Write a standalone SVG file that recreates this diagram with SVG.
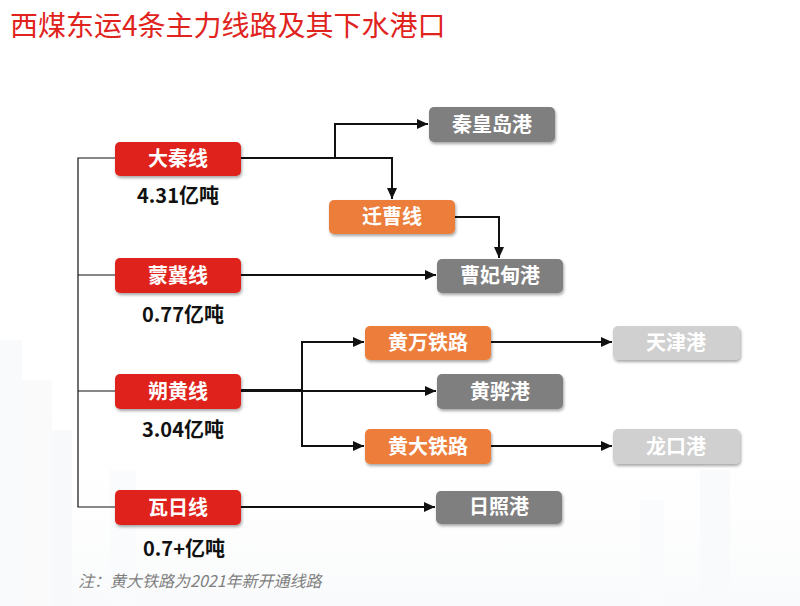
<svg xmlns="http://www.w3.org/2000/svg" width="800" height="606" viewBox="0 0 800 606">
<defs>
<style>
.box{stroke:none;filter:url(#sh)}
.red{fill:#e0231c}
.org{fill:#ec7d3b}
.dg{fill:#7f7f7f}
.lg{fill:#d0d0d0}
.bt{font-family:"Noto Sans CJK SC","Noto Sans",sans-serif;font-weight:700;font-size:20px;fill:#ffffff;text-anchor:middle}
.num{font-family:"Noto Sans CJK SC","Noto Sans",sans-serif;font-weight:700;font-size:20px;fill:#111111;text-anchor:middle}
.ln{fill:none;stroke:#111111;stroke-width:2}
.thin{fill:none;stroke:#111111;stroke-width:1.2}
</style>
<filter id="sh" x="-10%" y="-20%" width="125%" height="160%">
<feDropShadow dx="1" dy="2" stdDeviation="1.6" flood-color="#000000" flood-opacity="0.35"/>
</filter>
<marker id="ar" markerUnits="userSpaceOnUse" markerWidth="12" markerHeight="12" refX="11" refY="5" orient="auto">
<path d="M0,0 L11,5 L0,10 z" fill="#111111"/>
</marker>
<linearGradient id="bg" x1="0" y1="0" x2="0" y2="1">
<stop offset="0" stop-color="#ffffff" stop-opacity="0"/>
<stop offset="1" stop-color="#e9edf1" stop-opacity="0.8"/>
</linearGradient>
</defs>
<rect width="800" height="606" fill="#ffffff"/>
<g id="background" opacity="0.35">
<rect x="0" y="420" width="800" height="186" fill="url(#bg)"/>
<rect x="0" y="340" width="22" height="266" fill="#eef1f4"/>
<rect x="22" y="380" width="30" height="226" fill="#f1f3f6"/>
<rect x="52" y="430" width="20" height="176" fill="#eceff3"/>
<rect x="110" y="470" width="26" height="136" fill="#f2f4f7"/>
<rect x="640" y="500" width="24" height="106" fill="#f2f4f7"/>
<rect x="700" y="470" width="30" height="136" fill="#f0f2f5"/>
</g>
<text id="title" x="10" y="36" font-family="'Noto Sans CJK SC','Noto Sans',sans-serif" font-size="28" fill="#e0231c">西煤东运4条主力线路及其下水港口</text>
<g id="connectors">
<path class="thin" d="M115,158 H78 V507 H115 M78,275 H115 M78,391 H115"/>
<path class="ln" d="M241,158 H392 V199" marker-end="url(#ar)"/>
<path class="ln" d="M335,158 V124 H428" marker-end="url(#ar)"/>
<path class="ln" d="M455,217 H499 V258" marker-end="url(#ar)"/>
<path class="ln" d="M241,275 H436" marker-end="url(#ar)"/>
<path class="ln" d="M241,391 H436" marker-end="url(#ar)"/>
<path class="ln" d="M241,390 H302"/>
<path class="ln" d="M364,342 H302 V446 H364" />
<path class="ln" d="M302,342 H364" marker-end="url(#ar)"/>
<path class="ln" d="M302,446 H364" marker-end="url(#ar)"/>
<path class="ln" d="M491,342 H612" marker-end="url(#ar)"/>
<path class="ln" d="M491,446 H612" marker-end="url(#ar)"/>
<path class="ln" d="M241,507 H435" marker-end="url(#ar)"/>
</g>
<g id="daqin"><rect class="box red" x="115" y="142" width="126" height="34" rx="5"/><text class="bt" x="178" y="166">大秦线</text></g>
<text id="daqin-vol" class="num" x="178" y="203">4.31亿吨</text>
<g id="qinhuangdao"><rect class="box dg" x="429" y="107" width="126" height="35" rx="5"/><text class="bt" x="492" y="132">秦皇岛港</text></g>
<g id="qiancao"><rect class="box org" x="329" y="200" width="126" height="34" rx="5"/><text class="bt" x="392" y="224">迁曹线</text></g>
<g id="mengji"><rect class="box red" x="115" y="258" width="126" height="35" rx="5"/><text class="bt" x="178" y="283">蒙冀线</text></g>
<text id="mengji-vol" class="num" x="183" y="322">0.77亿吨</text>
<g id="caofeidian"><rect class="box dg" x="437" y="259" width="126" height="34" rx="5"/><text class="bt" x="500" y="283">曹妃甸港</text></g>
<g id="huangwan"><rect class="box org" x="365" y="326" width="126" height="34" rx="5"/><text class="bt" x="428" y="350">黄万铁路</text></g>
<g id="tianjin"><rect class="box lg" x="613" y="326" width="127" height="34" rx="5"/><text class="bt" x="676" y="350">天津港</text></g>
<g id="shuohuang"><rect class="box red" x="115" y="374" width="126" height="35" rx="5"/><text class="bt" x="178" y="399">朔黄线</text></g>
<text id="shuohuang-vol" class="num" x="183" y="437">3.04亿吨</text>
<g id="huanghua"><rect class="box dg" x="437" y="374" width="126" height="35" rx="5"/><text class="bt" x="500" y="399">黄骅港</text></g>
<g id="huangda"><rect class="box org" x="365" y="429" width="126" height="35" rx="5"/><text class="bt" x="428" y="454">黄大铁路</text></g>
<g id="longkou"><rect class="box lg" x="613" y="429" width="127" height="35" rx="5"/><text class="bt" x="676" y="454">龙口港</text></g>
<g id="wari"><rect class="box red" x="115" y="490" width="126" height="35" rx="5"/><text class="bt" x="178" y="515">瓦日线</text></g>
<text id="wari-vol" class="num" x="184" y="556">0.7+亿吨</text>
<g id="rizhao"><rect class="box dg" x="436" y="491" width="126" height="33" rx="5"/><text class="bt" x="499" y="514">日照港</text></g>
<text id="note" x="78" y="587" font-family="'Noto Sans CJK SC','Noto Sans',sans-serif" font-size="16" font-style="italic" fill="#7f7f7f">注：黄大铁路为2021年新开通线路</text>
</svg>
